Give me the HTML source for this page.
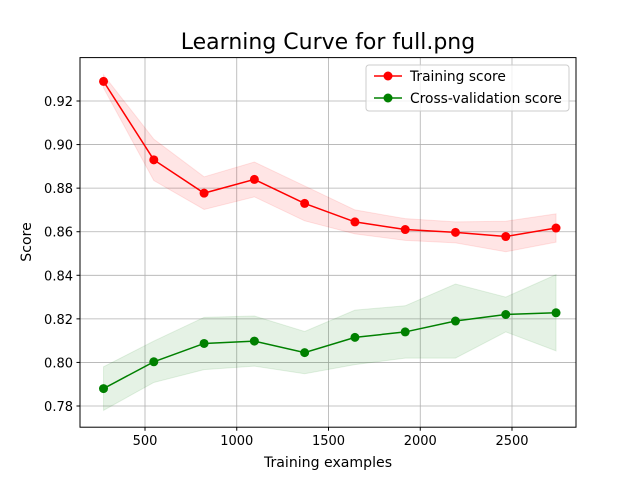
<!DOCTYPE html>
<html><head><meta charset="utf-8"><style>
html,body{margin:0;padding:0;background:#fff;}
svg{display:block;font-family:"DejaVu Sans","Liberation Sans",sans-serif;}
</style></head><body>
<svg id="chart" width="640" height="480">
<rect x="0" y="0" width="640" height="480" fill="#fff"/>
<text x="328" y="49" font-size="22" text-anchor="middle">Learning Curve for full.png</text>
<g id="grid"></g>
<g id="bands"></g>
<g id="lines"></g>
<rect x="80" y="57.6" width="496" height="369.6" fill="none" stroke="#000" stroke-width="1"/>
<g id="ticks" font-size="13"></g>
<text x="328" y="467" font-size="14.1" text-anchor="middle">Training examples</text>
<text transform="translate(31,242) rotate(-90)" font-size="14.1" text-anchor="middle">Score</text>
<g>
<rect x="366" y="65" width="203" height="46" rx="3" fill="#fff" fill-opacity="0.8" stroke="#ccc"/>
<g>
<line x1="374" y1="76" x2="402" y2="76" stroke="red" stroke-width="1.5"/><circle cx="388" cy="76" r="4.5" fill="red"/>
<text x="410" y="81" font-size="13.8">Training score</text></g>
<g>
<line x1="374" y1="98" x2="402" y2="98" stroke="green" stroke-width="1.5"/><circle cx="388" cy="98" r="4.5" fill="green"/>
<text x="410" y="103" font-size="13.8">Cross-validation score</text></g>
</g>
</svg>
<script>
const trainSizes=[274,548,822,1096,1370,1644,1918,2192,2466,2740];
const trainMean=[0.929,0.893,0.8777,0.884,0.873,0.8645,0.861,0.8597,0.8578,0.8617];
const trainStd=[0.003,0.0095,0.0075,0.008,0.008,0.0055,0.005,0.0048,0.007,0.0065];
const cvMean=[0.788,0.8003,0.8087,0.8098,0.8045,0.8115,0.814,0.819,0.822,0.8228];
const cvStd=[0.01,0.0095,0.012,0.0115,0.0097,0.0125,0.012,0.017,0.008,0.0175];
const xTicks=[500,1000,1500,2000,2500];
const yTicks=[0.78,0.80,0.82,0.84,0.86,0.88,0.90,0.92];
const NS="http://www.w3.org/2000/svg";
const L=80,R=576,T=57.6,B=427.2;
const x0=53.25,xk=91.75/500;
function sx(v){return x0+v*xk;}
function sy(v){return 101+(0.92-v)*2178.6;}
function mk(tag,attrs,parent){const e=document.createElementNS(NS,tag);for(const k in attrs)e.setAttribute(k,attrs[k]);parent.appendChild(e);return e;}
const grid=document.getElementById('grid'),ticks=document.getElementById('ticks');
xTicks.forEach(t=>{const x=sx(t);
 const g=mk('line',{x1:x,x2:x,y1:T,y2:B,stroke:'#b0b0b0','stroke-width':0.8},grid);
 
 
 mk('line',{x1:x,x2:x,y1:B,y2:B+3.5,stroke:'#000'},ticks);
 const tx=mk('text',{x:x,y:B+18,'text-anchor':'middle'},ticks);tx.textContent=t;
 
 });
yTicks.forEach(t=>{const y=sy(t);
 const g=mk('line',{x1:L,x2:R,y1:y,y2:y,stroke:'#b0b0b0','stroke-width':0.8},grid);
 
 
 mk('line',{x1:L-3.5,x2:L,y1:y,y2:y,stroke:'#000'},ticks);
 const tx=mk('text',{x:L-7,y:y+5,'text-anchor':'end'},ticks);tx.textContent=t.toFixed(2);
 
 });
function series(mean,std,color,name){
 const up=trainSizes.map((s,i)=>sx(s)+','+sy(mean[i]+std[i]));
 const lo=trainSizes.map((s,i)=>sx(s)+','+sy(mean[i]-std[i])).reverse();
 const b=mk('polygon',{points:up.concat(lo).join(' '),fill:color,'fill-opacity':0.1,stroke:color,'stroke-opacity':0.1},document.getElementById('bands'));
 
 
 const pts=trainSizes.map((s,i)=>sx(s)+','+sy(mean[i])).join(' ');
 const p=mk('polyline',{points:pts,fill:'none',stroke:color,'stroke-width':1.5},document.getElementById('lines'));
 
 
 trainSizes.forEach((s,i)=>{const c=mk('circle',{cx:sx(s),cy:sy(mean[i]),r:4.5,fill:color},document.getElementById('lines'));
  
  });
}
series(trainMean,trainStd,'red','training-score');
series(cvMean,cvStd,'green','cv-score');
</script>
</body></html>
